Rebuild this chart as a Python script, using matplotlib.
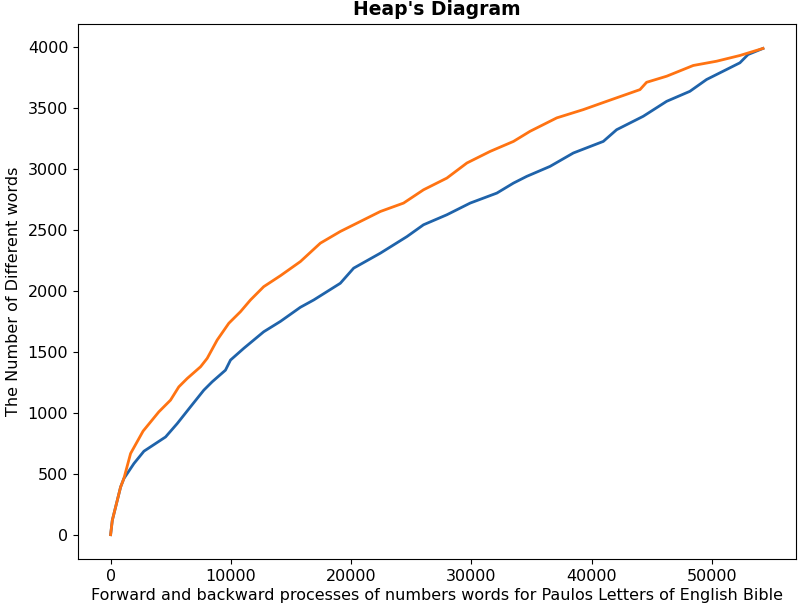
import matplotlib
matplotlib.use("Agg")
import matplotlib.pyplot as plt

# forward process (blue)
fwd_x = [0, 140, 415, 830, 1100, 1940, 2770, 4570, 5540, 6640, 7750, 8440, 9550,
         9970, 11070, 12730, 14120, 15780, 16890, 19100, 20210, 22430, 24640,
         26020, 27960, 29900, 32120, 33500, 34600, 36540, 38480, 40970, 42080,
         44290, 46240, 48170, 49560, 51220, 52330, 53010, 54250]
fwd_y = [0, 118, 227, 391, 460, 584, 685, 802, 912, 1049, 1186, 1254, 1350,
         1433, 1529, 1665, 1750, 1866, 1926, 2063, 2187, 2310, 2446,
         2543, 2625, 2721, 2803, 2885, 2940, 3022, 3132, 3227, 3323,
         3433, 3556, 3638, 3735, 3817, 3872, 3940, 3990]

# backward process (orange)
bwd_x = [0, 140, 415, 830, 1100, 1660, 2700, 4010, 4980, 5670, 6370, 7480, 8030,
         8860, 9830, 10800, 11630, 12730, 14120, 15780, 17440, 19100, 22430,
         24360, 26020, 27960, 29630, 31560, 33500, 34880, 37100, 39310, 41250,
         44020, 44570, 46240, 48450, 50390, 52330, 54250]
bwd_y = [0, 118, 227, 391, 460, 666, 850, 1008, 1104, 1213, 1282, 1378, 1447,
         1597, 1735, 1830, 1926, 2035, 2125, 2241, 2392, 2488, 2652,
         2721, 2830, 2926, 3050, 3145, 3227, 3310, 3420, 3488, 3556,
         3652, 3712, 3762, 3850, 3885, 3932, 3990]

fig = plt.figure(figsize=(8, 6.12), dpi=100)
ax = fig.add_axes([0.0975, 0.0866, 0.897, 0.874])
ax.plot(fwd_x, fwd_y, color='#1f63aa', linewidth=2)
ax.plot(bwd_x, bwd_y, color='#ff7312', linewidth=2)
ax.set_title("Heap's Diagram", fontsize=13.5, fontweight='bold', pad=6.5)
ax.set_xlabel('Forward and backward processes of numbers words for Paulos Letters of English Bible',
              fontsize=11.5, labelpad=3)
ax.set_ylabel('The Number of Different words', fontsize=11.5, labelpad=5)
ax.tick_params(labelsize=11.5)
plt.savefig('out.png', dpi=100)
